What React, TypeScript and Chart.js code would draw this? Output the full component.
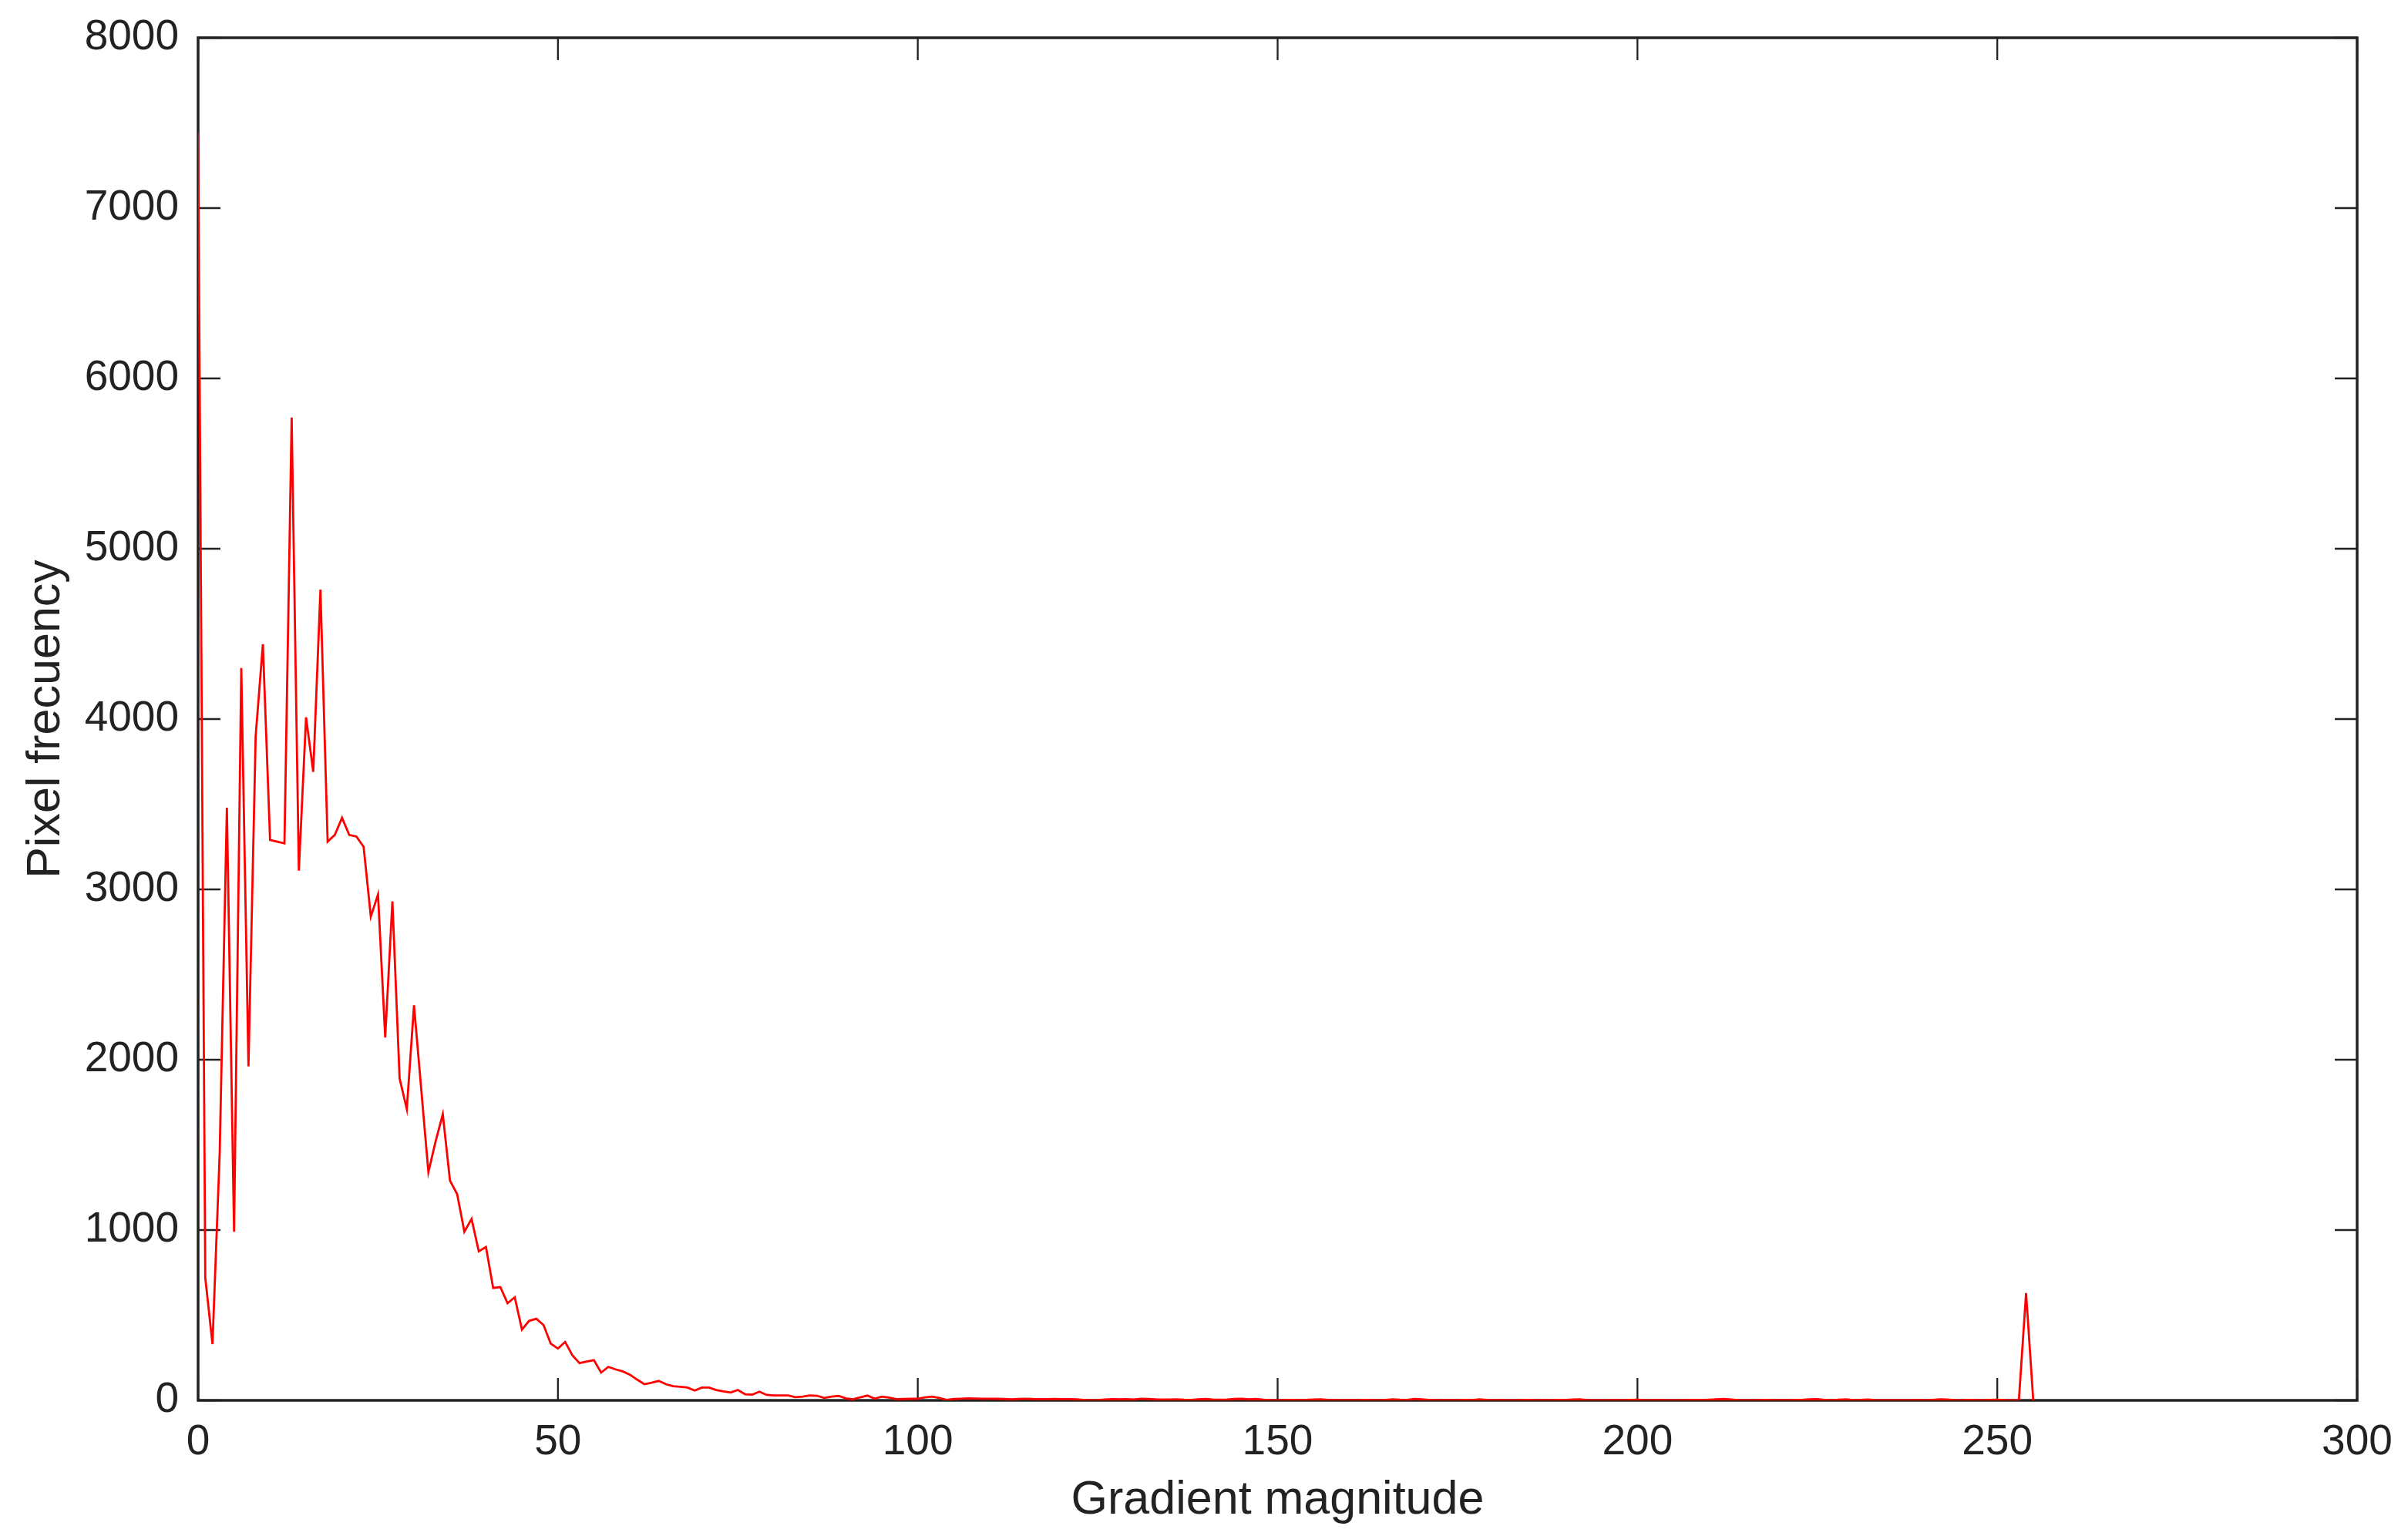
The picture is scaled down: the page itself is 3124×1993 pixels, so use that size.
import { useEffect, useRef } from "react"
import { Chart, registerables } from "chart.js"
import type { Plugin } from "chart.js"

Chart.register(...registerables)

// Axis ticks
const xTickValues = [0, 50, 100, 150, 200, 250, 300]
const yTickValues = [0, 1000, 2000, 3000, 4000, 5000, 6000, 7000, 8000]

// Pixel count for each gradient magnitude 0..255
const pixelCounts = [
  7440, 720, 330, 1450, 3480, 990, 4300, 1960, 3900, 4440,
  3290, 3280, 3270, 5770, 3110, 4010, 3690, 4760, 3280, 3320,
  3420, 3320, 3310, 3250, 2840, 2970, 2130, 2930, 1890, 1710,
  2320, 1830, 1340, 1520, 1680, 1290, 1210, 990, 1065, 875,
  900, 660, 665, 570, 605, 416, 467, 479, 442, 333,
  304, 343, 265, 219, 228, 236, 163, 197, 182, 170,
  151, 122, 95, 104, 114, 95, 83, 80, 75, 58,
  75, 75, 61, 53, 46, 61, 36, 34, 51, 32,
  29, 29, 29, 19, 22, 29, 27, 14, 22, 26,
  12, 6, 18, 28, 10, 22, 16, 7, 8, 9,
  10, 18, 22, 14, 3, 8, 10, 12, 11, 10,
  10, 9, 8, 6, 8, 10, 8, 7, 7, 8,
  7, 7, 6, 3, 0, 2, 5, 7, 6, 7,
  5, 10, 8, 6, 5, 5, 6, 4, 3, 6,
  8, 5, 4, 5, 8, 9, 6, 8, 4, 2,
  1, 2, 3, 2, 3, 5, 6, 3, 2, 1,
  2, 1, 3, 2, 1, 3, 6, 4, 3, 8,
  6, 3, 2, 1, 2, 1, 3, 2, 6, 3,
  1, 2, 1, 0, 2, 3, 1, 2, 1, 3,
  2, 5, 6, 2, 1, 0, 1, 2, 1, 3,
  4, 1, 0, 2, 1, 0, 1, 2, 3, 2,
  4, 6, 8, 5, 2, 1, 0, 2, 3, 1,
  2, 1, 3, 4, 6, 7, 3, 1, 4, 6,
  2, 3, 5, 2, 1, 0, 1, 0, 1, 2,
  1, 3, 6, 5, 2, 1, 3, 2, 1, 3,
  4, 2, 1, 0, 630, 0,
]

const AXIS_COLOR = "#222222"
const FONT = "'Liberation Sans', Arial, Helvetica, sans-serif"

// box around the plot with inward ticks on all four sides
const frameTicks: Plugin<"line"> = {
  id: "frameTicks",
  beforeDatasetsDraw(chart) {
    const { ctx, chartArea, scales } = chart
    const { left, right, top, bottom } = chartArea
    const len = 29
    ctx.save()
    ctx.strokeStyle = AXIS_COLOR
    ctx.lineWidth = 2.3
    ctx.beginPath()
    for (const v of xTickValues) {
      const px = scales.x.getPixelForValue(v)
      ctx.moveTo(px, bottom)
      ctx.lineTo(px, bottom - len)
      ctx.moveTo(px, top)
      ctx.lineTo(px, top + len)
    }
    for (const v of yTickValues) {
      const py = scales.y.getPixelForValue(v)
      ctx.moveTo(left, py)
      ctx.lineTo(left + len, py)
      ctx.moveTo(right, py)
      ctx.lineTo(right - len, py)
    }
    ctx.stroke()
    ctx.lineWidth = 3.5
    ctx.strokeRect(left, top, right - left, bottom - top)
    ctx.restore()
  },
}

export default function App() {
  const chartRef = useRef<HTMLCanvasElement>(null)
  const chartInstance = useRef<Chart | null>(null)

  useEffect(() => {
    if (!chartRef.current) return
    if (chartInstance.current) chartInstance.current.destroy()

    const points = pixelCounts.map((count, i) => ({ x: i, y: count }))

    chartInstance.current = new Chart(chartRef.current, {
      type: "line",
      data: {
        datasets: [
          {
            label: "Pixel frecuency",
            data: points,
            borderColor: "#ff0000",
            borderWidth: 2.8,
            pointRadius: 0,
            tension: 0,
            fill: false,
          },
        ],
      },
      options: {
        animation: false,
        responsive: true,
        maintainAspectRatio: false,
        layout: { padding: { left: 0, top: 49, right: 66, bottom: 0 } },
        plugins: {
          legend: { display: false },
          tooltip: { enabled: false },
        },
        scales: {
          x: {
            type: "linear",
            min: 0,
            max: 300,
            afterFit: (scale) => {
              scale.height = 176
              scale.paddingLeft = 0
              scale.paddingRight = 0
            },
            afterBuildTicks: (scale) => {
              scale.ticks = xTickValues.map((value) => ({ value }))
            },
            grid: { display: false, drawTicks: false },
            border: { display: false },
            ticks: {
              padding: 22,
              color: AXIS_COLOR,
              font: { family: FONT, size: 55 },
              maxRotation: 0,
            },
            title: {
              display: true,
              text: "Gradient magnitude",
              color: AXIS_COLOR,
              font: { family: FONT, size: 61 },
              padding: { top: 0, bottom: 9 },
            },
          },
          y: {
            type: "linear",
            min: 0,
            max: 8000,
            afterFit: (scale) => {
              scale.width = 257
              scale.paddingTop = 0
              scale.paddingBottom = 0
            },
            afterBuildTicks: (scale) => {
              scale.ticks = yTickValues.map((value) => ({ value }))
            },
            grid: { display: false, drawTicks: false },
            border: { display: false },
            ticks: {
              padding: 25,
              color: AXIS_COLOR,
              font: { family: FONT, size: 55 },
              callback: (value) => String(value),
            },
            title: {
              display: true,
              text: "Pixel frecuency",
              color: AXIS_COLOR,
              font: { family: FONT, size: 61 },
              padding: { top: 24, bottom: 0 },
            },
          },
        },
      },
      plugins: [frameTicks],
    })

    return () => {
      if (chartInstance.current) {
        chartInstance.current.destroy()
        chartInstance.current = null
      }
    }
  }, [])

  return (
    <div
      style={{
        position: "fixed",
        left: 0,
        top: 0,
        width: "3124px",
        height: "1993px",
        background: "#ffffff",
      }}
    >
      <canvas ref={chartRef} />
    </div>
  )
}
